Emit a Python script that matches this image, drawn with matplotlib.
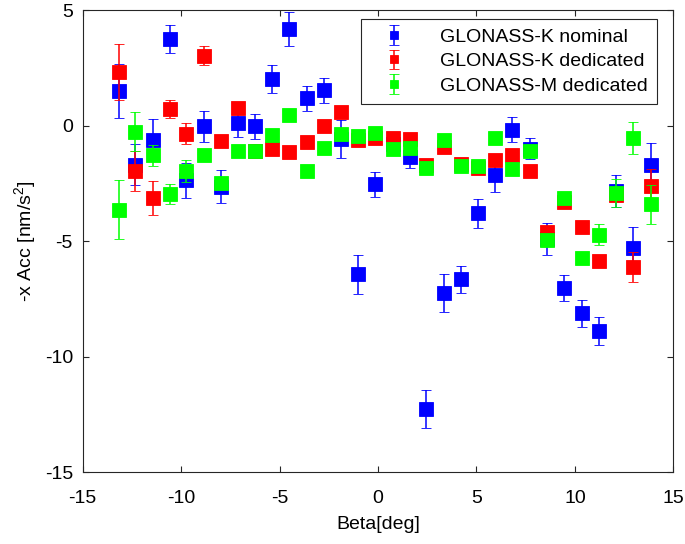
import numpy as np
import matplotlib
matplotlib.use('Agg')
import matplotlib.pyplot as plt

plt.rcParams['font.family'] = ['Liberation Sans', 'DejaVu Sans']
plt.rcParams['mathtext.default'] = 'regular'
plt.rcParams['axes.unicode_minus'] = False

# beta angle bins [deg]
beta = [-13.17, -12.33, -11.45, -10.58, -9.74, -8.86, -7.98, -7.10, -6.25, -5.37,
        -4.51, -3.63, -2.75, -1.89, -1.01, -0.13, 0.74, 1.61, 2.46, 3.34,
        4.20, 5.07, 5.95, 6.83, 7.71, 8.58, 9.46, 10.34, 11.22, 12.10,
        12.97, 13.85]

# GLONASS-K nominal
k_nom = [1.51, -1.69, -0.62, 3.73, -2.37, -0.04, -2.65, 0.09, -0.03, 2.01,
         4.17, 1.18, 1.52, -0.58, -6.43, -2.55, -0.80, -1.35, -12.26, -7.25,
         -6.66, -3.80, -2.16, -0.18, -1.00, -4.90, -7.03, -8.13, -8.88, -2.82,
         -5.28, -1.71]
k_nom_err = [1.17, 0.88, 0.89, 0.61, 0.76, 0.67, 0.71, 0.57, 0.54, 0.60,
             0.74, 0.53, 0.55, 0.81, 0.85, 0.54, 0.20, 0.50, 0.82, 0.83,
             0.60, 0.63, 0.72, 0.55, 0.45, 0.70, 0.57, 0.58, 0.60, 0.70,
             0.89, 0.94]

# GLONASS-K dedicated
k_ded = [2.32, -1.97, -3.14, 0.72, -0.36, 3.03, -0.67, 0.76, -1.10, -1.02,
         -1.15, -0.72, -0.03, 0.58, -0.62, -0.53, -0.55, -0.60, -1.72, -0.93,
         -1.68, -1.83, -1.51, -1.29, -1.97, -4.60, -3.30, -4.37, -5.88, -3.01,
         -6.11, -2.62]
k_ded_err = [1.20, 0.88, 0.73, 0.39, 0.45, 0.40, 0.20, 0.20, 0.20, 0.20,
             0.20, 0.20, 0.20, 0.20, 0.20, 0.20, 0.20, 0.20, 0.20, 0.20,
             0.20, 0.20, 0.20, 0.20, 0.20, 0.20, 0.20, 0.20, 0.20, 0.20,
             0.65, 0.72]

# GLONASS-M dedicated
m_ded = [-3.64, -0.27, -1.28, -2.95, -1.98, -1.28, -2.50, -1.08, -1.08, -0.40,
         0.47, -1.97, -0.99, -0.35, -0.45, -0.32, -1.02, -0.96, -1.85, -0.63,
         -1.76, -1.76, -0.56, -1.86, -1.12, -4.95, -3.14, -5.73, -4.72, -2.91,
         -0.53, -3.41]
m_ded_err = [1.28, 0.85, 0.45, 0.43, 0.47, 0.20, 0.20, 0.20, 0.20, 0.20,
             0.20, 0.20, 0.20, 0.20, 0.20, 0.20, 0.20, 0.20, 0.20, 0.20,
             0.20, 0.20, 0.20, 0.20, 0.20, 0.20, 0.20, 0.20, 0.45, 0.60,
             0.70, 0.84]

series = [
    (k_nom, k_nom_err, 'GLONASS-K nominal', (0, 0, 1)),
    (k_ded, k_ded_err, 'GLONASS-K dedicated', (1, 0, 0)),
    (m_ded, m_ded_err, 'GLONASS-M dedicated', (0, 1, 0)),
]

fig = plt.figure(figsize=(6.85, 5.44), dpi=100)
ax = fig.add_axes([0.1207, 0.132, 0.8623, 0.8496])

for i, (y, e, lab, c) in enumerate(series):
    ax.errorbar(beta, y, yerr=e, fmt='s', color=c, mfc=c, mec=c,
                markersize=10.5, mew=0.6, elinewidth=1.1, capsize=3.6,
                capthick=1.1, label=lab, zorder=2 + i)

ax.set_xlim(-15, 15)
ax.set_ylim(-15, 5)
ax.set_xticks(np.arange(-15, 16, 5))
ax.set_yticks(np.arange(-15, 6, 5))
ax.tick_params(direction='in', length=4, width=0.8, labelsize=14,
               top=True, right=True, colors='0.15', labelcolor='black')
ax.tick_params(axis='x', pad=13)
ax.tick_params(axis='y', pad=7)
for s in ax.spines.values():
    s.set_color('0.15')
    s.set_linewidth(0.8)

ax.set_xlabel('Beta[deg]', fontsize=14, labelpad=6)
ax.set_ylabel('-x Acc [nm/s$^2$]', fontsize=14, labelpad=5)

leg = ax.legend(loc='upper right', bbox_to_anchor=(0.972, 0.98),
                borderaxespad=0, fancybox=False, fontsize=14,
                edgecolor='0.15', framealpha=1, handlelength=2.5,
                handletextpad=1.15, markerscale=0.55,
                borderpad=0.45, labelspacing=0.36)
leg.get_frame().set_linewidth(0.8)

fig.savefig('out.png', dpi=100)
